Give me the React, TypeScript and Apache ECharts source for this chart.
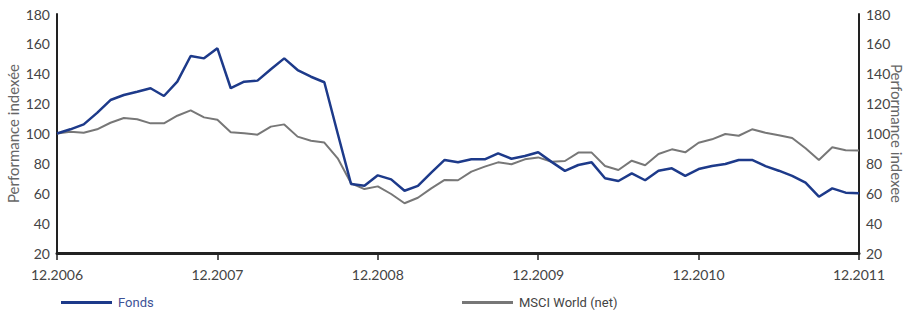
import React, { useEffect, useRef } from "react";
import * as echarts from "echarts";

const yearLabels = ["12.2006", "12.2007", "12.2008", "12.2009", "12.2010", "12.2011"];

const fonds = [
  100, 102.8, 106.1, 113.8, 122.4, 125.8, 128, 130.3, 125.1, 134.7, 151.9, 150.3,
  157, 130.3, 134.7, 135.4, 143, 150.3, 142.5, 138, 134.3, 100, 66.2, 65,
  72, 69.3, 61.7, 64.9, 73.8, 82.3, 80.7, 82.7, 82.7, 86.7, 83.1, 84.9,
  87.4, 81, 75, 78.9, 80.7, 70, 68.2, 73.3, 68.7, 75.1, 76.7, 71.6,
  76.2, 78.2, 79.6, 82.3, 82.3, 78.2, 75.1, 71.6, 67.1, 57.7, 63.3, 60.4, 60,
];

const msci = [
  100, 101.2, 100.5, 102.8, 107.2, 110.4, 109.5, 106.8, 106.8, 111.9, 115.5, 110.8,
  109.2, 100.8, 100.1, 99.2, 104.6, 106.1, 97.9, 95.2, 93.9, 83.4, 66.7, 62.8,
  64.6, 59.5, 53.3, 57, 63.3, 68.9, 68.7, 74.5, 77.8, 80.7, 79.4, 82.7,
  84, 81.1, 81.6, 87.2, 87.2, 78.2, 75.6, 81.8, 78.7, 86.3, 89.4, 87.4,
  93.8, 96.1, 99.7, 98.5, 102.8, 100.5, 98.8, 97, 90.1, 82.3, 90.8, 88.8, 88.6,
];

const months: string[] = [];
for (let i = 0; i < fonds.length; i++) {
  const m = ((11 + i) % 12) + 1;
  const y = 2006 + Math.floor((11 + i) / 12);
  months.push(String(m).padStart(2, "0") + "." + y);
}

const seriesNames = ["Fonds", "MSCI World (net)"];
const yTitles = ["Performance indexée", "Performance indexee"];

export default function App() {
  const ref = useRef<HTMLDivElement>(null);
  useEffect(() => {
    if (!ref.current) return;
    const chart = echarts.init(ref.current, null, { renderer: "svg" });
    const tickFont = { fontFamily: "Lato", fontSize: 14, color: "#444" };
    const yAxisBase = {
      type: "value",
      min: 20,
      max: 180,
      interval: 20,
      splitLine: { show: false },
      axisTick: { show: false },
      axisLine: { show: true, lineStyle: { color: "#222", width: 2 } },
      axisLabel: { ...tickFont, margin: 7 },
      nameLocation: "middle",
      nameMoveOverlap: false,
      nameTextStyle: { fontFamily: "Lato", fontSize: 15, color: "#666" },
    };
    chart.setOption({
      animation: false,
      grid: { left: 57, right: 47, top: 14, bottom: 59, outerBoundsMode: "none", containLabel: false },
      xAxis: {
        type: "category",
        data: months,
        boundaryGap: false,
        axisLine: { lineStyle: { color: "#222", width: 3 } },
        axisTick: { interval: 11, length: 7, lineStyle: { color: "#222", width: 1.5 } },
        axisLabel: {
          ...tickFont,
          interval: 11,
          margin: 14,
          showMaxLabel: true,
          formatter: (v: string) => (yearLabels.indexOf(v) >= 0 ? v : ""),
        },
      },
      yAxis: [
        { ...yAxisBase, position: "left", name: yTitles[0], nameGap: 37, nameRotate: 90 },
        { ...yAxisBase, position: "right", name: yTitles[1], nameGap: 30, nameRotate: -90 },
      ],
      legend: [
        {
          left: 56,
          top: 291,
          itemWidth: 51,
          itemHeight: 3,
          itemGap: 10,
          icon: "rect",
          data: [{ name: seriesNames[0], textStyle: { color: "#3d5196" } }],
          textStyle: { fontFamily: "Roboto", fontSize: 13, padding: [0, 0, 0, 1] },
        },
        {
          left: 457,
          top: 291,
          itemWidth: 51,
          itemHeight: 3,
          itemGap: 10,
          icon: "rect",
          data: [{ name: seriesNames[1], textStyle: { color: "#444" } }],
          textStyle: { fontFamily: "Roboto", fontSize: 13, padding: [0, 0, 0, 1] },
        },
      ],
      series: [
        {
          name: seriesNames[1],
          type: "line",
          data: msci,
          showSymbol: false,
          symbol: "none",
          lineStyle: { color: "#777", width: 2 },
          itemStyle: { color: "#777" },
        },
        {
          name: seriesNames[0],
          type: "line",
          data: fonds,
          showSymbol: false,
          symbol: "none",
          lineStyle: { color: "#1d3a8a", width: 2.5 },
          itemStyle: { color: "#1d3a8a" },
        },
      ],
    });
    return () => chart.dispose();
  }, []);
  return <div ref={ref} style={{ width: 906, height: 312, position: "absolute", left: 0, top: 0 }} />;
}
